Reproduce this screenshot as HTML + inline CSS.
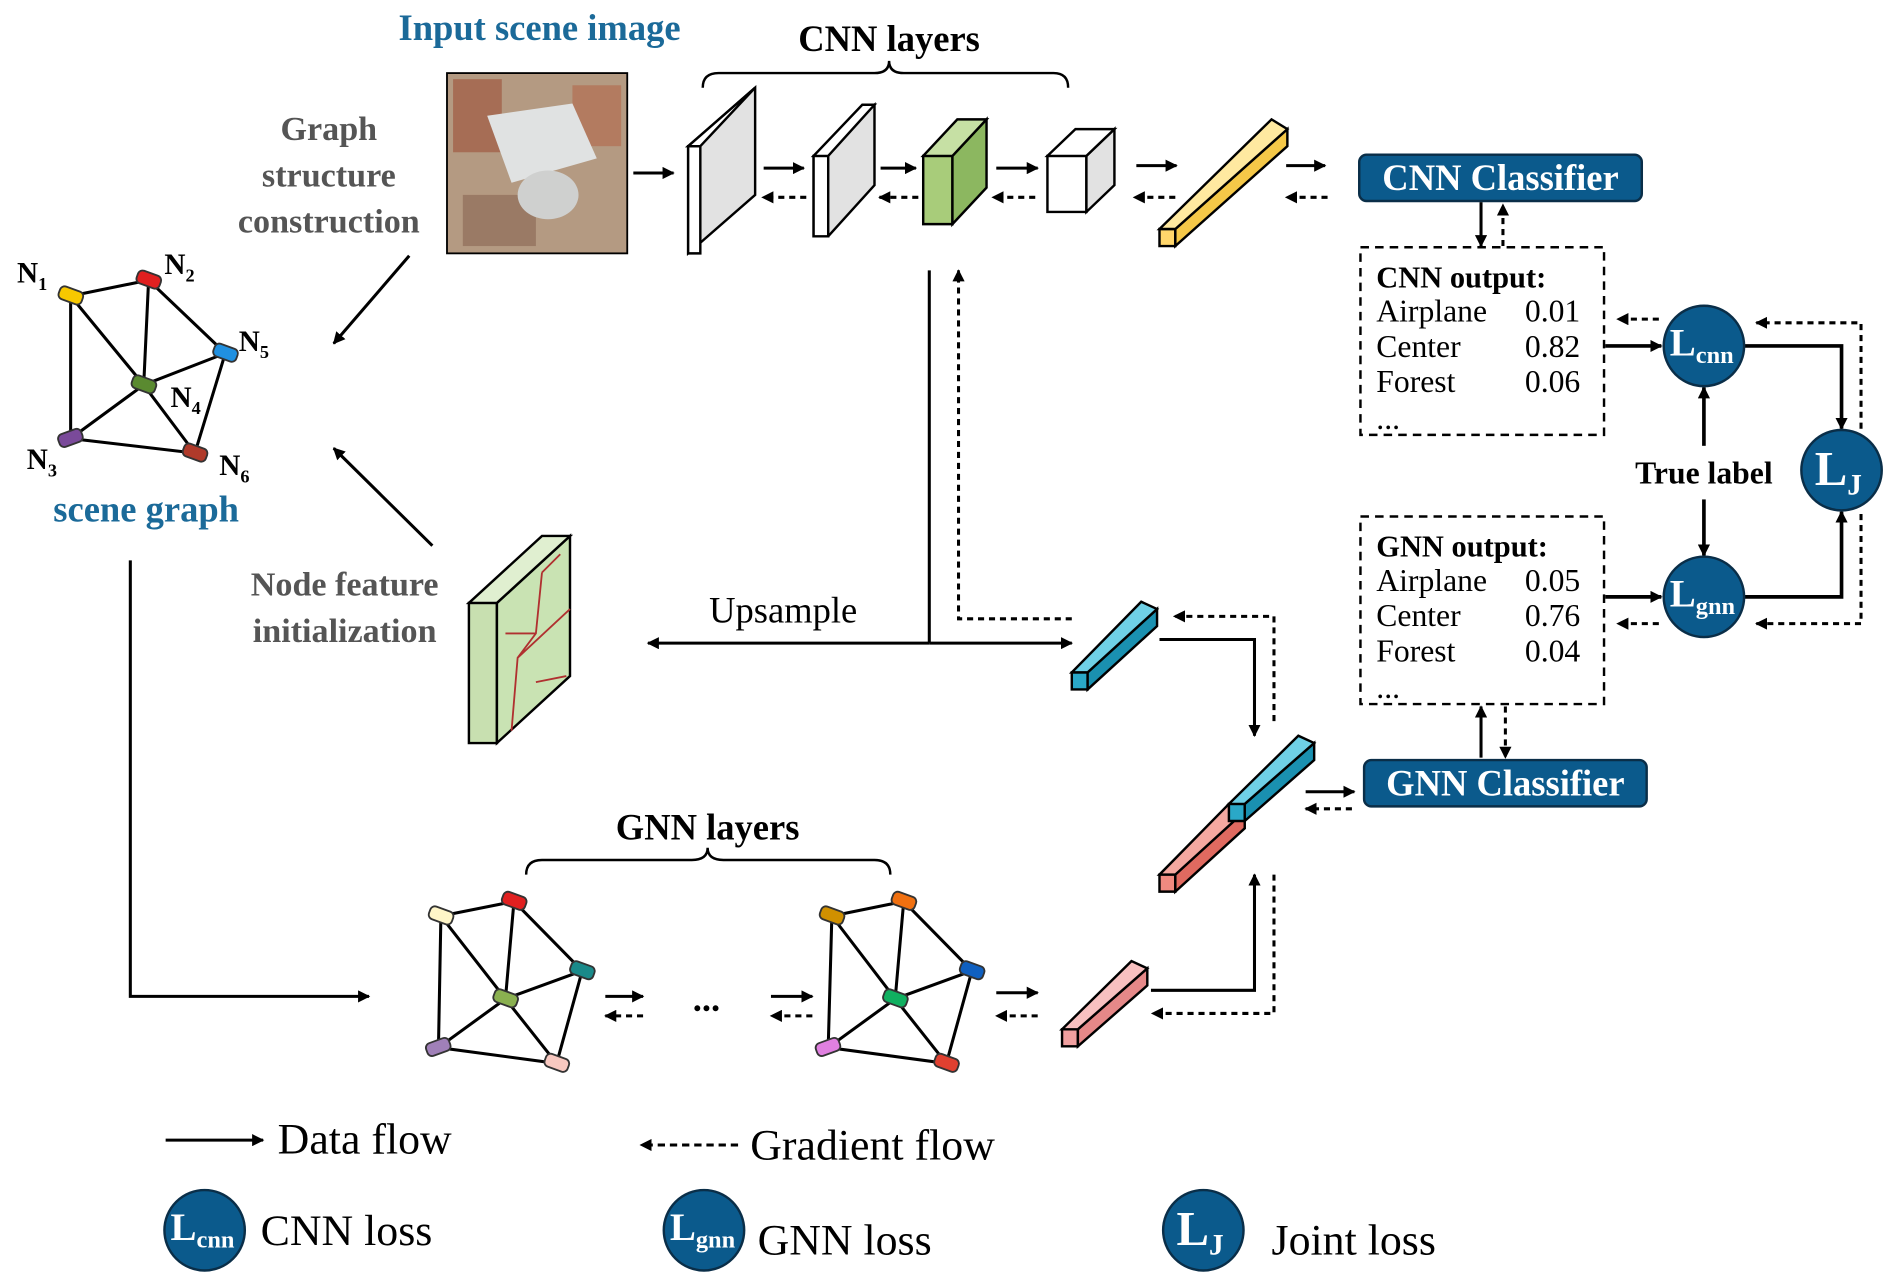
<!DOCTYPE html>
<html><head><meta charset="utf-8"><style>
html,body{margin:0;padding:0;background:#fff}
svg{display:block}
text{font-family:"Liberation Serif",serif}
</style></head><body>
<svg width="1900" height="1279" viewBox="0 0 1560 1050" preserveAspectRatio="none" xmlns="http://www.w3.org/2000/svg">
<defs>
<marker id="a" markerWidth="10" markerHeight="10" refX="9" refY="5" orient="auto" markerUnits="userSpaceOnUse"><path d="M0,0 L10,5 L0,10 z" fill="#000"/></marker>
<marker id="b" markerWidth="14" markerHeight="12" refX="13" refY="6" orient="auto" markerUnits="userSpaceOnUse"><path d="M0,0 L14,6 L0,12 z" fill="#000"/></marker>
</defs>
<g fill="none" stroke="#000" stroke-width="2.5">
<!-- titles -->
</g>
<text x="443" y="33" font-size="30" font-weight="bold" fill="#1b6a99" text-anchor="middle">Input scene image</text>
<text x="730" y="42" font-size="30" font-weight="bold" text-anchor="middle">CNN layers</text>
<path d="M577,72 Q577,60 590,60 L718,60 Q730,60 730,50 Q730,60 742,60 L865,60 Q877,60 877,72" fill="none" stroke="#000" stroke-width="2"/>
<text x="270" y="115" font-size="28" font-weight="bold" fill="#555" text-anchor="middle">Graph</text>
<text x="270" y="153" font-size="28" font-weight="bold" fill="#555" text-anchor="middle">structure</text>
<text x="270" y="191" font-size="28" font-weight="bold" fill="#555" text-anchor="middle">construction</text>
<text x="283" y="489" font-size="28" font-weight="bold" fill="#555" text-anchor="middle">Node feature</text>
<text x="283" y="527" font-size="28" font-weight="bold" fill="#555" text-anchor="middle">initialization</text>
<text x="120" y="428" font-size="30" font-weight="bold" fill="#1b6a99" text-anchor="middle">scene graph</text>
<!-- image -->
<rect x="367" y="60" width="148" height="148" fill="#b49a82" stroke="#000" stroke-width="1.5"/>
<rect x="372" y="65" width="40" height="60" fill="#a66d55"/>
<rect x="470" y="70" width="40" height="50" fill="#b37b60"/>
<rect x="380" y="160" width="60" height="42" fill="#9a7a65"/>
<polygon points="400,95 470,85 490,130 420,150" fill="#e0e2e2"/>
<ellipse cx="450" cy="160" rx="25" ry="20" fill="#cfd0cf"/>
<!-- cnn slabs -->
<g stroke="#000" stroke-width="2">
<polygon points="565,120 620,72 620,160 565,208" fill="#e2e2e2"/>
<polygon points="565,120 575,120 575,208 565,208" fill="#fff"/>
<polygon points="565,120 620,72 620,72 575,120" fill="#fff"/>
<polygon points="668,128 718,86 718,152 680,194 668,194" fill="#e2e2e2"/>
<polygon points="668,128 680,128 680,194 668,194" fill="#fff"/>
<polygon points="668,128 680,128 718,86 708,86" fill="#fff"/>
<polygon points="758,128 782,128 782,184 758,184" fill="#a8cc7a"/>
<polygon points="782,128 810,98 810,154 782,184" fill="#8cb760"/>
<polygon points="758,128 782,128 810,98 786,98" fill="#c6e0a4"/>
<polygon points="860,128 892,128 892,174 860,174" fill="#fff"/>
<polygon points="892,128 915,106 915,152 892,174" fill="#e2e2e2"/>
<polygon points="860,128 892,128 915,106 883,106" fill="#fff"/>
<polygon points="952,188 965,188 965,202 952,202" fill="#ffd66b"/>
<polygon points="965,188 1057,106 1057,120 965,202" fill="#f5c848"/>
<polygon points="952,188 965,188 1057,106 1044,98" fill="#ffe9a0"/>
</g>
<g stroke="#000" stroke-width="2.5" fill="none">
<line x1="520" y1="142" x2="553" y2="142" marker-end="url(#a)"/>
<line x1="627" y1="138" x2="660" y2="138" marker-end="url(#a)"/>
<line x1="723" y1="138" x2="752" y2="138" marker-end="url(#a)"/>
<line x1="818" y1="138" x2="852" y2="138" marker-end="url(#a)"/>
<line x1="933" y1="136" x2="966" y2="136" marker-end="url(#a)"/>
<line x1="1056" y1="136" x2="1088" y2="136" marker-end="url(#a)"/>
</g>
<g stroke="#000" stroke-width="2.5" fill="none" stroke-dasharray="5,4">
<line x1="662" y1="162" x2="626" y2="162" marker-end="url(#a)"/>
<line x1="754" y1="162" x2="722" y2="162" marker-end="url(#a)"/>
<line x1="850" y1="162" x2="815" y2="162" marker-end="url(#a)"/>
<line x1="965" y1="162" x2="931" y2="162" marker-end="url(#a)"/>
<line x1="1090" y1="162" x2="1056" y2="162" marker-end="url(#a)"/>
</g>
<!-- classifiers -->
<rect x="1116" y="127" width="232" height="38" rx="6" fill="#0b5a8c" stroke="#0a2e48" stroke-width="2"/>
<text x="1232" y="156" font-size="30" font-weight="bold" fill="#fff" text-anchor="middle">CNN Classifier</text>
<rect x="1120" y="624" width="232" height="38" rx="6" fill="#0b5a8c" stroke="#0a2e48" stroke-width="2"/>
<text x="1236" y="653" font-size="30" font-weight="bold" fill="#fff" text-anchor="middle">GNN Classifier</text>
<line x1="1216" y1="166" x2="1216" y2="202" stroke="#000" stroke-width="2.5" marker-end="url(#a)"/>
<line x1="1234" y1="202" x2="1234" y2="168" stroke="#000" stroke-width="2.5" stroke-dasharray="5,4" marker-end="url(#a)"/>
<line x1="1216" y1="622" x2="1216" y2="580" stroke="#000" stroke-width="2.5" marker-end="url(#a)"/>
<line x1="1236" y1="580" x2="1236" y2="622" stroke="#000" stroke-width="2.5" stroke-dasharray="5,4" marker-end="url(#a)"/>
<!-- output boxes -->
<rect x="1117" y="203" width="200" height="154" fill="none" stroke="#000" stroke-width="2" stroke-dasharray="7,5"/>
<text x="1130" y="236" font-size="25" font-weight="bold">CNN output:</text>
<text font-size="26"><tspan x="1130" y="264">Airplane</tspan><tspan x="1252" y="264">0.01</tspan><tspan x="1130" y="293">Center</tspan><tspan x="1252" y="293">0.82</tspan><tspan x="1130" y="322">Forest</tspan><tspan x="1252" y="322">0.06</tspan><tspan x="1130" y="352">...</tspan></text>
<rect x="1117" y="424" width="200" height="154" fill="none" stroke="#000" stroke-width="2" stroke-dasharray="7,5"/>
<text x="1130" y="457" font-size="25" font-weight="bold">GNN output:</text>
<text font-size="26"><tspan x="1130" y="485">Airplane</tspan><tspan x="1252" y="485">0.05</tspan><tspan x="1130" y="514">Center</tspan><tspan x="1252" y="514">0.76</tspan><tspan x="1130" y="543">Forest</tspan><tspan x="1252" y="543">0.04</tspan><tspan x="1130" y="573">...</tspan></text>
<!-- loss circles -->
<g stroke="#000" stroke-width="3" fill="none">
<line x1="1318" y1="284" x2="1364" y2="284" marker-end="url(#a)"/>
<line x1="1318" y1="490" x2="1364" y2="490" marker-end="url(#a)"/>
<polyline points="1432,284 1512,284 1512,352" marker-end="url(#a)"/>
<polyline points="1432,490 1512,490 1512,420" marker-end="url(#a)"/>
<line x1="1399" y1="366" x2="1399" y2="318" marker-end="url(#a)"/>
<line x1="1399" y1="410" x2="1399" y2="456" marker-end="url(#a)"/>
</g>
<g stroke="#000" stroke-width="2.5" fill="none" stroke-dasharray="5,4">
<line x1="1362" y1="262" x2="1328" y2="262" marker-end="url(#a)"/>
<polyline points="1528,352 1528,265 1442,265" marker-end="url(#a)"/>
<line x1="1362" y1="512" x2="1328" y2="512" marker-end="url(#a)"/>
<polyline points="1528,422 1528,512 1442,512" marker-end="url(#a)"/>
</g>
<text x="1399" y="397" font-size="26" font-weight="bold" text-anchor="middle">True label</text>
<g fill="#0b5a8c" stroke="#0a2e48" stroke-width="2">
<circle cx="1399" cy="284" r="33"/><circle cx="1512" cy="386" r="33"/><circle cx="1399" cy="490" r="33"/>
<circle cx="168" cy="1010" r="33"/><circle cx="578" cy="1010" r="33"/><circle cx="988" cy="1010" r="33"/>
</g>
<g fill="#fff" font-weight="bold">
<text x="1371" y="292" font-size="32">L<tspan font-size="20" dy="6">cnn</tspan></text>
<text x="1371" y="498" font-size="32">L<tspan font-size="20" dy="6">gnn</tspan></text>
<text x="1490" y="398" font-size="40">L<tspan font-size="24" dy="8">J</tspan></text>
<text x="140" y="1018" font-size="32">L<tspan font-size="20" dy="6">cnn</tspan></text>
<text x="550" y="1018" font-size="32">L<tspan font-size="20" dy="6">gnn</tspan></text>
<text x="966" y="1022" font-size="40">L<tspan font-size="24" dy="8">J</tspan></text>
</g>
<!-- middle connectors -->
<g stroke="#000" stroke-width="2.5" fill="none">
<line x1="763" y1="222" x2="763" y2="528"/>
<line x1="763" y1="528" x2="532" y2="528" marker-end="url(#a)"/>
<line x1="763" y1="528" x2="880" y2="528" marker-end="url(#a)"/>
<polyline points="952,525 1030,525 1030,604" marker-end="url(#a)"/>
<polyline points="945,813 1030,813 1030,718" marker-end="url(#a)"/>
<line x1="1072" y1="650" x2="1112" y2="650" marker-end="url(#a)"/>
<line x1="336" y1="210" x2="274" y2="282" marker-end="url(#a)"/>
<line x1="355" y1="448" x2="274" y2="368" marker-end="url(#a)"/>
<polyline points="107,460 107,818 303,818" marker-end="url(#a)"/>
<line x1="497" y1="818" x2="528" y2="818" marker-end="url(#a)"/>
<line x1="633" y1="818" x2="667" y2="818" marker-end="url(#a)"/>
<line x1="818" y1="815" x2="852" y2="815" marker-end="url(#a)"/>
</g>
<g stroke="#000" stroke-width="2.5" fill="none" stroke-dasharray="5,4">
<polyline points="880,508 787,508 787,222" marker-end="url(#a)"/>
<polyline points="1046,592 1046,506 964,506" marker-end="url(#a)"/>
<polyline points="1046,718 1046,832 946,832" marker-end="url(#a)"/>
<line x1="1110" y1="664" x2="1072" y2="664" marker-end="url(#a)"/>
<line x1="528" y1="834" x2="497" y2="834" marker-end="url(#a)"/>
<line x1="667" y1="834" x2="633" y2="834" marker-end="url(#a)"/>
<line x1="852" y1="834" x2="818" y2="834" marker-end="url(#a)"/>
</g>
<text x="643" y="511" font-size="30" text-anchor="middle">Upsample</text>
<!-- feature map -->
<g stroke="#000" stroke-width="2">
<polygon points="385,495 408,495 408,610 385,610" fill="#c8e0b0"/>
<polygon points="408,495 468,440 468,555 408,610" fill="#c9e3b3"/>
<polygon points="385,495 408,495 468,440 445,440" fill="#e0efd0"/>
</g>
<g stroke="#b03030" stroke-width="1.5" fill="none">
<path d="M420,600 L425,540 L468,500 M425,540 L440,520 L445,470 M415,520 L440,520 M440,560 L465,555 M445,470 L460,455"/>
</g>
<!-- cyan, combined, pink bars -->
<g stroke="#000" stroke-width="2">
<polygon points="880,552 893,552 893,566 880,566" fill="#2aa8c8"/>
<polygon points="893,552 950,500 950,514 893,566" fill="#1a90b0"/>
<polygon points="880,552 893,552 950,500 937,494" fill="#6fd0e6"/>
<polygon points="952,718 965,718 965,732 952,732" fill="#f08a80"/>
<polygon points="965,718 1022,666 1022,680 965,732" fill="#e06a60"/>
<polygon points="952,718 965,718 1022,666 1009,660" fill="#f5a8a0"/>
<polygon points="1009,660 1022,660 1022,674 1009,674" fill="#2aa8c8"/>
<polygon points="1022,660 1079,610 1079,624 1022,674" fill="#1a90b0"/>
<polygon points="1009,660 1022,660 1079,610 1066,604" fill="#6fd0e6"/>
<polygon points="872,845 885,845 885,859 872,859" fill="#f0a0a0"/>
<polygon points="885,845 942,795 942,809 885,859" fill="#e58888"/>
<polygon points="872,845 885,845 942,795 929,789" fill="#f8c0c0"/>
</g>
<!-- scene graph -->
<g stroke="#000" stroke-width="2.5" fill="none">
<path d="M58,243 L122,230 L185,290 L160,372 L58,360 Z M58,243 L118,316 L160,372 M122,230 L118,316 L185,290 M58,360 L118,316"/>
<path d="M362,752 L422,740 L478,797 L457,873 L360,860 Z M362,752 L415,820 L457,873 M422,740 L415,820 L478,797 M360,860 L415,820"/>
<path d="M683,752 L742,740 L798,797 L777,873 L680,860 Z M683,752 L735,820 L777,873 M742,740 L735,820 L798,797 M680,860 L735,820"/>
</g>
<g stroke="#333" stroke-width="1.5">
<rect x="48" y="237" width="20" height="11" rx="4" fill="#f7c800" transform="rotate(20 58 243)"/>
<rect x="112" y="224" width="20" height="11" rx="4" fill="#e02020" transform="rotate(20 122 230)"/>
<rect x="175" y="284" width="20" height="11" rx="4" fill="#2090e0" transform="rotate(20 185 290)"/>
<rect x="108" y="310" width="20" height="11" rx="4" fill="#5a8a30" transform="rotate(20 118 316)"/>
<rect x="48" y="354" width="20" height="11" rx="4" fill="#7a4a9a" transform="rotate(-20 58 360)"/>
<rect x="150" y="366" width="20" height="11" rx="4" fill="#b03a2a" transform="rotate(20 160 372)"/>
<rect x="352" y="746" width="20" height="11" rx="4" fill="#fff6c8" transform="rotate(20 362 752)"/>
<rect x="412" y="734" width="20" height="11" rx="4" fill="#e02020" transform="rotate(20 422 740)"/>
<rect x="468" y="791" width="20" height="11" rx="4" fill="#1a8a8a" transform="rotate(20 478 797)"/>
<rect x="405" y="814" width="20" height="11" rx="4" fill="#8ab050" transform="rotate(20 415 820)"/>
<rect x="350" y="854" width="20" height="11" rx="4" fill="#a080b8" transform="rotate(-20 360 860)"/>
<rect x="447" y="867" width="20" height="11" rx="4" fill="#f8c8c0" transform="rotate(20 457 873)"/>
<rect x="673" y="746" width="20" height="11" rx="4" fill="#d09000" transform="rotate(20 683 752)"/>
<rect x="732" y="734" width="20" height="11" rx="4" fill="#f07010" transform="rotate(20 742 740)"/>
<rect x="788" y="791" width="20" height="11" rx="4" fill="#1060c0" transform="rotate(20 798 797)"/>
<rect x="725" y="814" width="20" height="11" rx="4" fill="#10b060" transform="rotate(20 735 820)"/>
<rect x="670" y="854" width="20" height="11" rx="4" fill="#e080e0" transform="rotate(-20 680 860)"/>
<rect x="767" y="867" width="20" height="11" rx="4" fill="#e04030" transform="rotate(20 777 873)"/>
</g>
<g font-size="24" font-weight="bold">
<text x="14" y="232">N<tspan font-size="15" dy="6">1</tspan></text>
<text x="135" y="225">N<tspan font-size="15" dy="6">2</tspan></text>
<text x="196" y="288">N<tspan font-size="15" dy="6">5</tspan></text>
<text x="140" y="334">N<tspan font-size="15" dy="6">4</tspan></text>
<text x="22" y="385">N<tspan font-size="15" dy="6">3</tspan></text>
<text x="180" y="390">N<tspan font-size="15" dy="6">6</tspan></text>
</g>
<text x="580" y="830" font-size="30" font-weight="bold" text-anchor="middle">...</text>
<text x="581" y="689" font-size="30" font-weight="bold" text-anchor="middle">GNN layers</text>
<path d="M432,718 Q432,706 445,706 L568,706 Q581,706 581,696 Q581,706 594,706 L718,706 Q731,706 731,718" fill="none" stroke="#000" stroke-width="2"/>
<!-- legend -->
<line x1="136" y1="936" x2="216" y2="936" stroke="#000" stroke-width="2.5" marker-end="url(#a)"/>
<text x="228" y="947" font-size="36">Data flow</text>
<line x1="606" y1="940" x2="526" y2="940" stroke="#000" stroke-width="2.5" stroke-dasharray="6,4" marker-end="url(#a)"/>
<text x="616" y="952" font-size="36">Gradient flow</text>
<text x="214" y="1022" font-size="36">CNN loss</text>
<text x="622" y="1030" font-size="36">GNN loss</text>
<text x="1044" y="1030" font-size="36">Joint loss</text>
</svg>
</body></html>
